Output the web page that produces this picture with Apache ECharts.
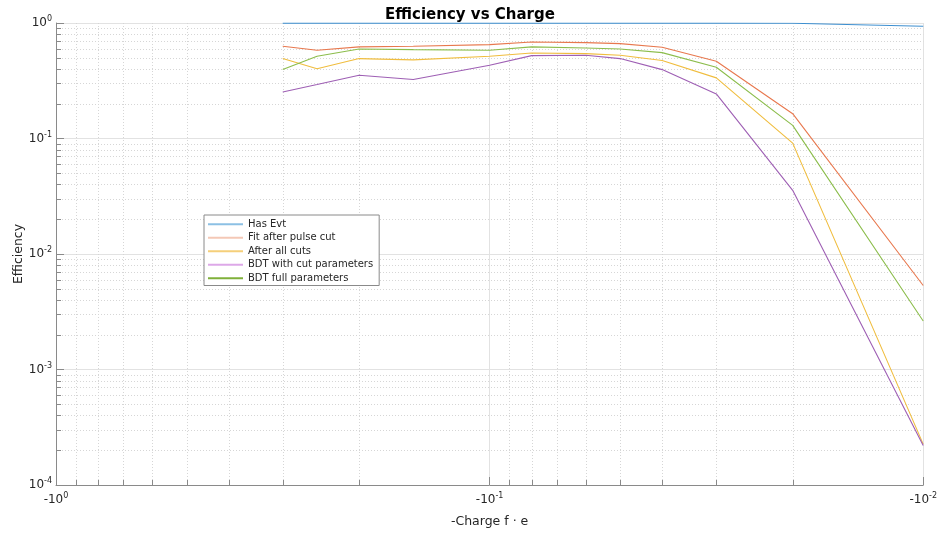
<!DOCTYPE html>
<html>
<head>
<meta charset="utf-8">
<script src="https://cdn.jsdelivr.net/npm/echarts@6/dist/echarts.min.js"></script>
<style>
  html, body { margin: 0; padding: 0; background: #fff; }
  #chart { width: 940px; height: 533px; }
</style>
</head>
<body>
<div id="chart"></div>
<script>
// Charge magnitudes (plotted as negative charge, log scale)
const charges = [0.3, 0.25, 0.2, 0.15, 0.1, 0.08, 0.06, 0.05, 0.04, 0.03, 0.02, 0.01];

// Efficiency for each selection stage
const hasEvt        = [0.998, 0.998, 0.998, 0.998, 0.998, 0.998, 0.998, 0.998, 0.998, 0.997, 0.995, 0.936];
const fitAfterPulse = [0.629, 0.581, 0.621, 0.629, 0.650, 0.685, 0.676, 0.663, 0.617, 0.467, 0.164, 0.00534];
const afterAllCuts  = [0.492, 0.401, 0.492, 0.479, 0.515, 0.550, 0.543, 0.526, 0.473, 0.335, 0.0912, 0.000226];
const bdtCutParams  = [0.253, 0.293, 0.353, 0.324, 0.431, 0.522, 0.525, 0.492, 0.395, 0.243, 0.0356, 0.00022];
const bdtFullParams = [0.395, 0.515, 0.596, 0.588, 0.581, 0.621, 0.608, 0.596, 0.554, 0.414, 0.130, 0.00263];

const seriesNames = ['Has Evt', 'Fit after pulse cut', 'After all cuts', 'BDT with cut parameters', 'BDT full parameters'];

// Minor tick positions (2..9 within each decade)
const xMinor = [];
[0.01, 0.1].forEach(d => { for (let k = 2; k <= 9; k++) xMinor.push(+(d * k).toPrecision(3)); });
const yMinor = [];
[1e-4, 1e-3, 1e-2, 1e-1].forEach(d => { for (let k = 2; k <= 9; k++) yMinor.push(+(d * k).toPrecision(3)); });

const FONT = 'DejaVu Sans';
const TEXT = '#262626';
const AXIS = '#8a8a8a';

const lineColors   = ['#3d8fd0', '#e8784e', '#f0bd3e', '#9e5fb4', '#8cbd4c'];
const legendColors = ['#8cc0e4', '#f4c8b6', '#f5cf7a', '#dda8e8', '#7fb03a'];

function pair(xs, ys) { return xs.map((x, i) => [x, ys[i]]); }
function expOf(v) { return Math.round(Math.log10(v)); }

const supRich = {
  b: { fontFamily: FONT, fontSize: 12, color: TEXT },
  s: { fontFamily: FONT, fontSize: 8, color: TEXT, padding: [0, 0, 8, 0] }
};

const lineSeries = [hasEvt, fitAfterPulse, afterAllCuts, bdtCutParams, bdtFullParams].map((vals, i) => ({
  name: seriesNames[i],
  type: 'line',
  data: pair(charges, vals),
  symbol: 'none',
  z: 3,
  lineStyle: { color: lineColors[i], width: 1.1 },
  itemStyle: { color: lineColors[i] }
}));

// Minor grid lines and inward minor ticks
const minorSeries = {
  type: 'custom',
  z: 1,
  silent: true,
  data: xMinor.map(v => [v, 1e-4, 0]).concat(yMinor.map(v => [0.01, v, 1])),
  renderItem: function (params, api) {
    const cs = params.coordSys;
    const isY = api.value(2) === 1;
    const grid = { stroke: '#d6d6d6', lineWidth: 1, lineDash: [1, 2] };
    const tick = { stroke: AXIS, lineWidth: 1 };
    if (!isY) {
      const p = api.coord([api.value(0), 1e-4]);
      const x = Math.round(p[0]) + 0.5;
      return { type: 'group', children: [
        { type: 'line', shape: { x1: x, y1: cs.y, x2: x, y2: cs.y + cs.height }, style: grid },
        { type: 'line', shape: { x1: x, y1: cs.y + cs.height, x2: x, y2: cs.y + cs.height - 5 }, style: tick }
      ]};
    } else {
      const p = api.coord([0.01, api.value(1)]);
      const y = Math.round(p[1]) + 0.5;
      return { type: 'group', children: [
        { type: 'line', shape: { x1: cs.x, y1: y, x2: cs.x + cs.width, y2: y }, style: grid },
        { type: 'line', shape: { x1: cs.x, y1: y, x2: cs.x + 5, y2: y }, style: tick }
      ]};
    }
  }
};

const chart = echarts.init(document.getElementById('chart'), null, { renderer: 'canvas' });
chart.setOption({
  backgroundColor: '#fff',
  animation: false,
  title: {
    text: 'Efficiency vs Charge',
    left: 'center', top: 3,
    textStyle: { fontFamily: FONT, fontSize: 15, fontWeight: 'bold', color: '#000' }
  },
  grid: { left: 56, right: 15, top: 23, bottom: 47 },
  legend: {
    orient: 'vertical',
    left: 204, top: 215,
    backgroundColor: '#fff',
    borderColor: '#8a8a8a',
    borderWidth: 1,
    padding: [3, 6, 1, 4],
    itemGap: 1,
    itemWidth: 35,
    itemHeight: 2,
    icon: 'rect',
    textStyle: { fontFamily: FONT, fontSize: 10, color: TEXT, lineHeight: 12.5 },
    data: seriesNames.map((n, i) => ({ name: n, itemStyle: { color: legendColors[i] } }))
  },
  xAxis: {
    type: 'log',
    logBase: 10,
    min: 0.01, max: 1,
    inverse: true,
    name: '-Charge f · e',
    nameLocation: 'middle',
    nameGap: 30,
    nameTextStyle: { fontFamily: FONT, fontSize: 12.5, color: TEXT },
    axisLine: { show: true, lineStyle: { color: AXIS } },
    axisTick: { show: true, inside: true, length: 8, lineStyle: { color: AXIS } },
    axisLabel: {
      margin: 7,
      formatter: v => '{b|-10}{s|' + expOf(v) + '}',
      rich: supRich
    },
    splitLine: { show: true, lineStyle: { color: '#e2e2e2', width: 1 } }
  },
  yAxis: {
    type: 'log',
    logBase: 10,
    min: 1e-4, max: 1,
    name: 'Efficiency',
    nameLocation: 'middle',
    nameGap: 31,
    nameMoveOverlap: false,
    nameTextStyle: { fontFamily: FONT, fontSize: 12.5, color: TEXT },
    axisLine: { show: true, lineStyle: { color: AXIS } },
    axisTick: { show: true, inside: true, length: 8, lineStyle: { color: AXIS } },
    axisLabel: {
      margin: 4,
      formatter: v => '{b|10}{s|' + expOf(v) + '}',
      rich: supRich
    },
    splitLine: { show: true, lineStyle: { color: '#e2e2e2', width: 1 } }
  },
  series: [minorSeries].concat(lineSeries)
});
</script>
</body>
</html>
